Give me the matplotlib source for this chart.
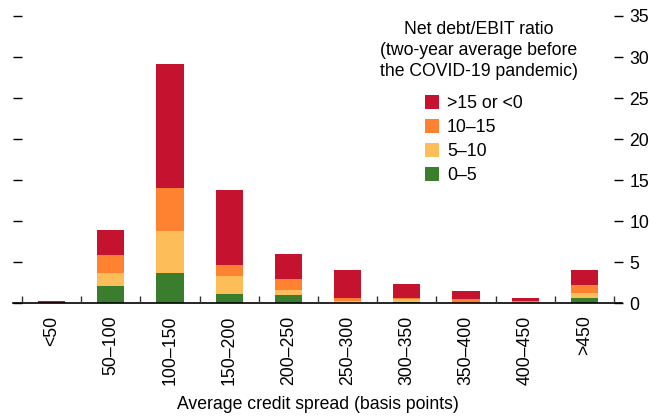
import matplotlib
matplotlib.use("Agg")
import matplotlib.pyplot as plt
from matplotlib.patches import Patch
import numpy as np

plt.rcParams['font.family'] = ['Liberation Sans', 'DejaVu Sans']

categories = ["<50", "50–100", "100–150", "150–200", "200–250", "250–300",
              "300–350", "350–400", "400–450", ">450"]
series_labels = ["0–5", "5–10", "10–15", ">15 or <0"]
green = [0.0, 2.1, 3.65, 1.1, 1.0, 0.05, 0.15, 0.0, 0.02, 0.6]
yellow = [0.0, 1.55, 5.15, 2.2, 0.6, 0.25, 0.3, 0.05, 0.08, 0.6]
orange = [0.0, 2.2, 5.2, 1.3, 1.3, 0.35, 0.1, 0.45, 0.15, 1.0]
red = [0.3, 3.05, 15.1, 9.2, 3.1, 3.35, 1.75, 1.0, 0.35, 1.8]
y_ticks = [0, 5, 10, 15, 20, 25, 30, 35]

colors = ["#3A7D2C", "#FDBE5A", "#FF8231", "#C5122F"]

W, H = 663, 419
fig = plt.figure(figsize=(W / 100, H / 100), dpi=100)
ax = fig.add_axes([22 / W, 1 - 303 / H, (614 - 22) / W, (303 - 16) / H])

x = np.arange(len(categories))
bottom = np.zeros(len(categories))
for vals, c in zip([green, yellow, orange, red], colors):
    ax.bar(x, vals, width=0.46, bottom=bottom, color=c, linewidth=0)
    bottom += np.array(vals)

ax.set_xlim(-0.5, len(categories) - 0.5)
ax.set_ylim(0, 35)

for s in ['left', 'right', 'top', 'bottom']:
    ax.spines[s].set_visible(False)

# bottom axis line extending slightly past the plot area
ax.plot([-9 / 592, 1 + 8 / 592], [0, 0], transform=ax.transAxes,
        color='black', lw=1.2, clip_on=False, zorder=1)

fs = 12.7
ax.set_yticks(y_ticks)
ax.yaxis.set_ticks_position('both')
ax.tick_params(axis='y', which='major', left=True, right=True, labelleft=False,
               labelright=True, direction='out', length=6.5, width=1.0,
               labelsize=fs, pad=4.5, colors='black')

ax.set_xticks(x)
ax.set_xticklabels(categories, rotation=90, fontsize=fs)
ax.set_xticks(np.arange(-0.5, len(categories)), minor=True)
ax.tick_params(axis='x', which='major', length=0, pad=9)
ax.tick_params(axis='x', which='minor', direction='in', length=5, width=1.0,
               colors='#333333')

ax.set_xlabel("Average credit spread (basis points)", fontsize=fs, labelpad=8)

# legend title
fig.text(479 / W, 1 - 21 / H,
         "Net debt/EBIT ratio\n(two-year average before\nthe COVID-19 pandemic)",
         ha='center', va='top', fontsize=fs, multialignment='center',
         linespacing=1.32)

handles = [Patch(facecolor=c, edgecolor='none', label=l)
           for c, l in zip(colors[::-1], series_labels[::-1])]
fig.legend(handles=handles, loc='upper left',
           bbox_to_anchor=(425 / W, 1 - 95 / H), frameon=False,
           fontsize=fs, handlelength=0.8, handleheight=0.8,
           handletextpad=0.45, labelspacing=0.4, borderpad=0,
           borderaxespad=0)

fig.savefig("out.png", dpi=100)
